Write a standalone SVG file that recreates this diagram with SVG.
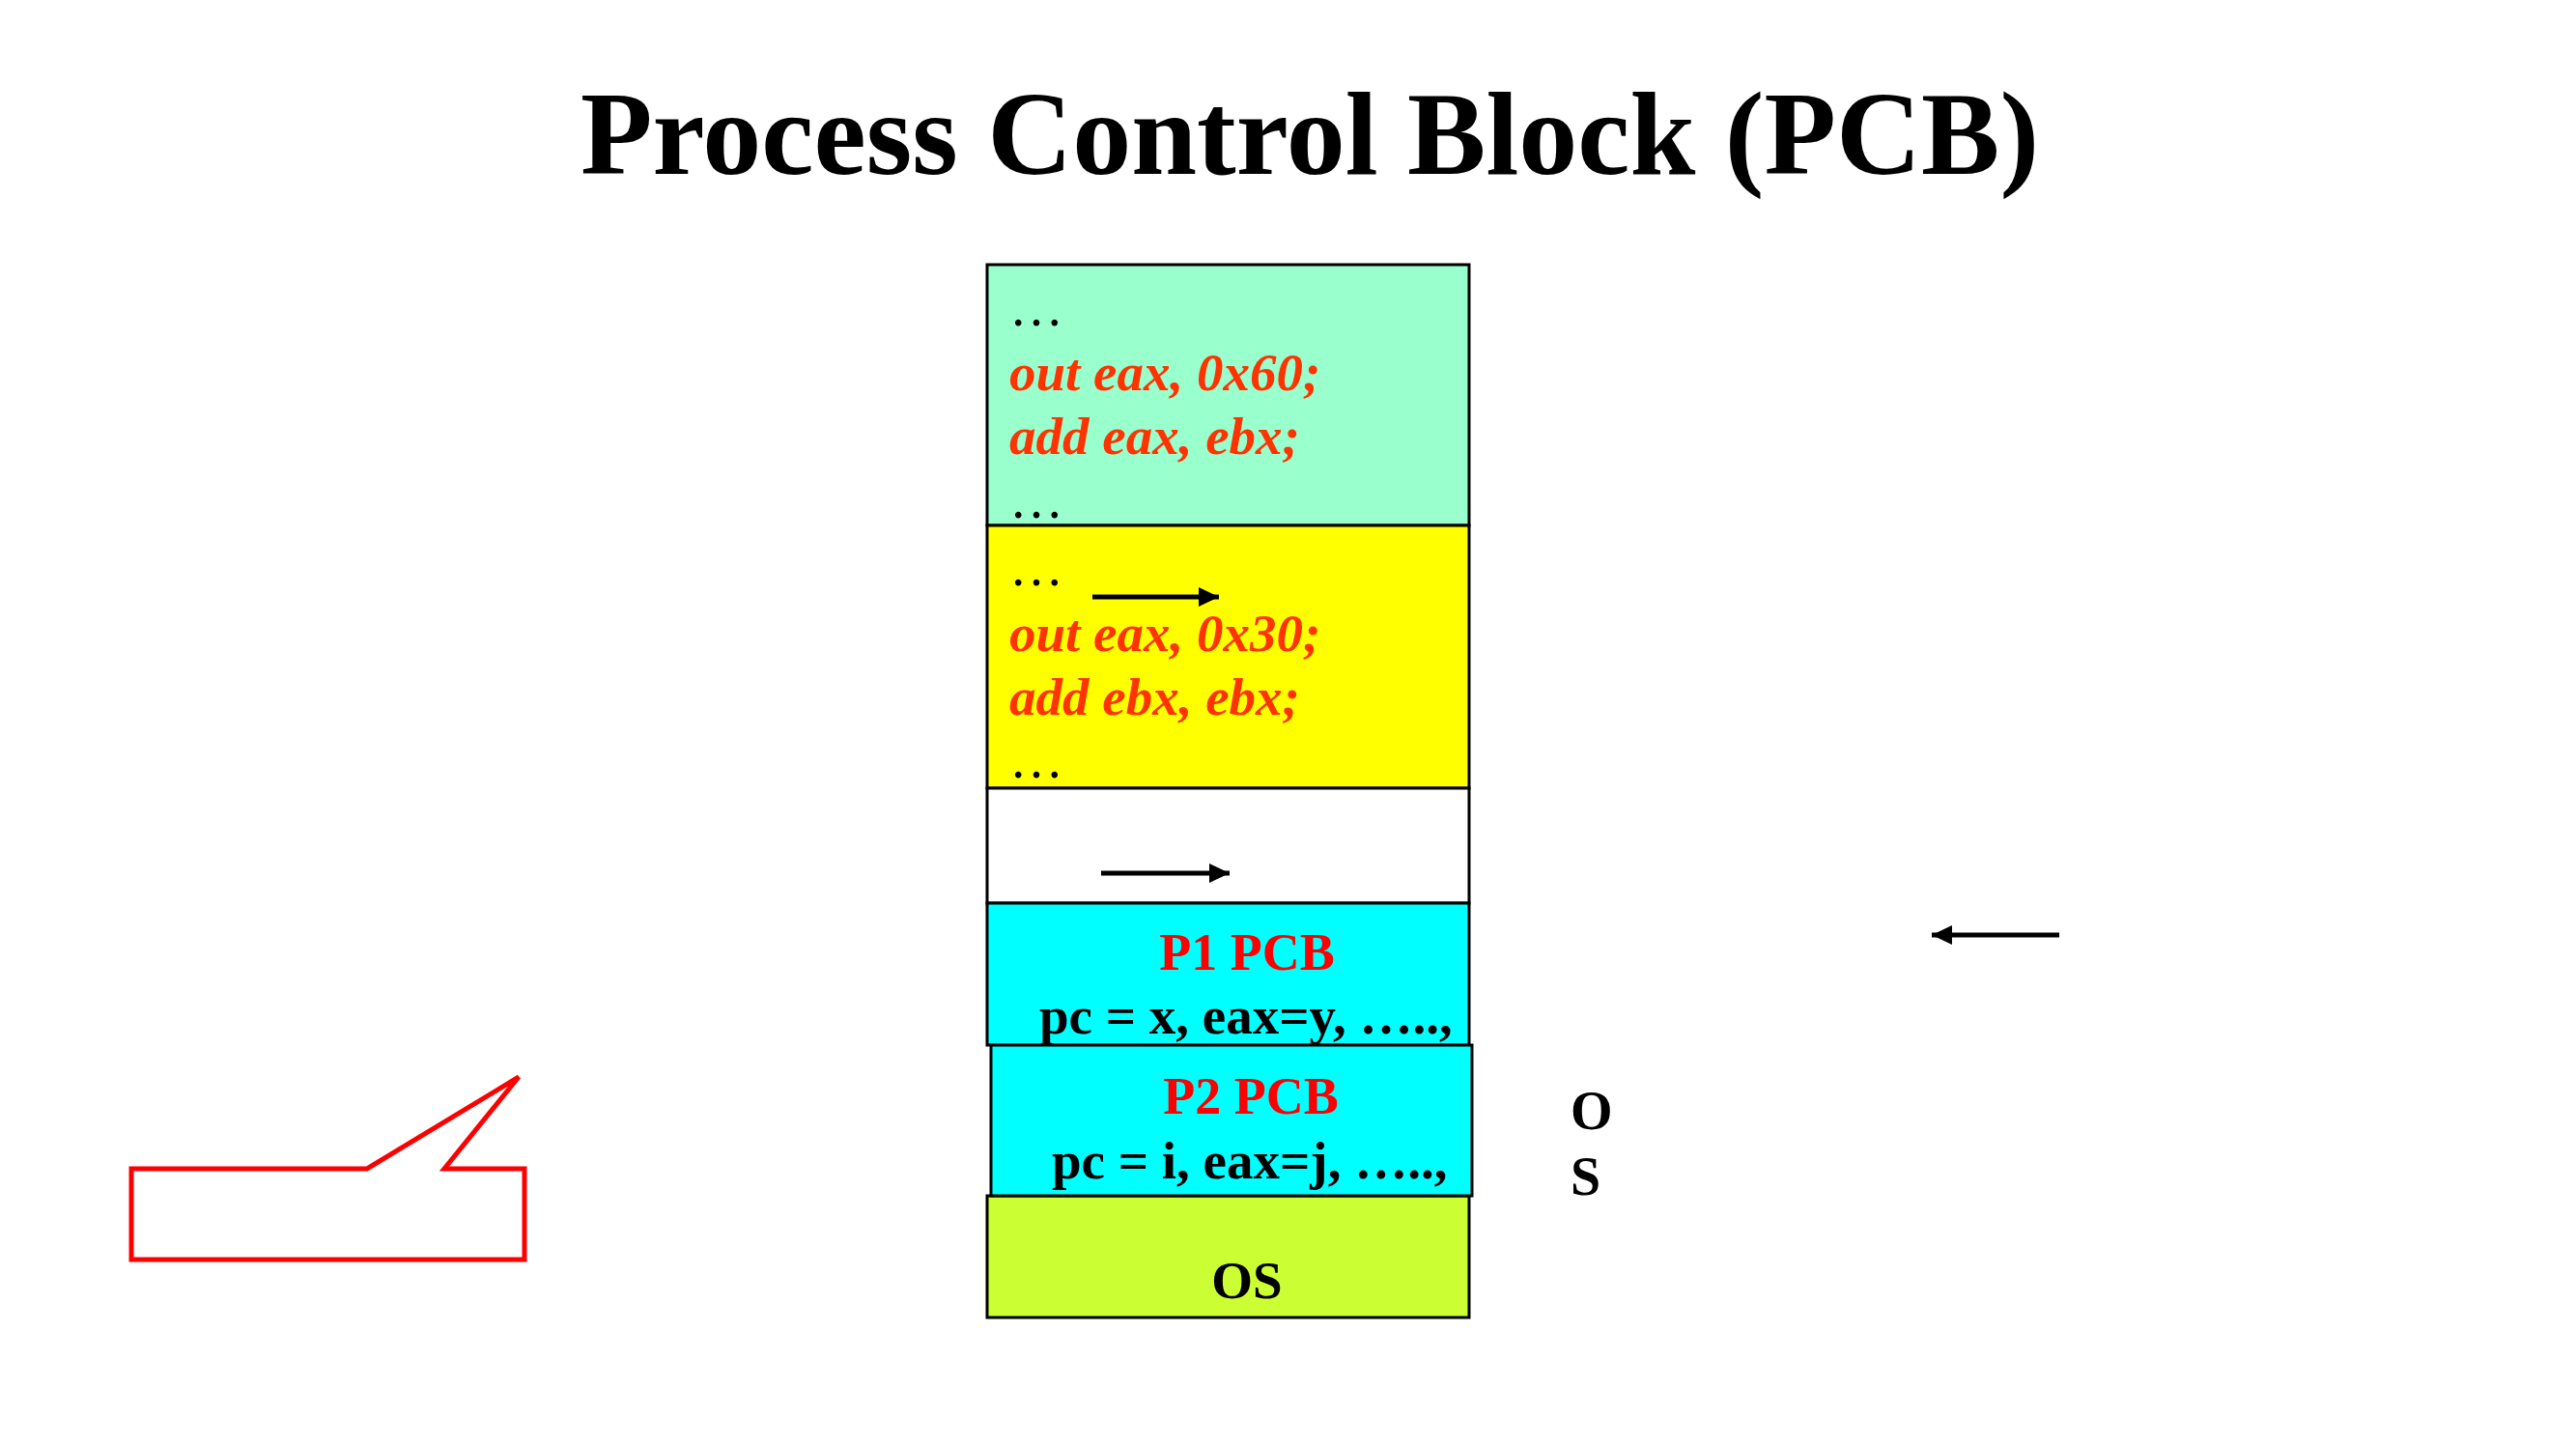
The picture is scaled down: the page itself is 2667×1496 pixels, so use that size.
<svg xmlns="http://www.w3.org/2000/svg" width="2667" height="1496" viewBox="0 0 2667 1496">
<style>
.t{font-family:"Liberation Serif","Times New Roman",serif;font-weight:bold}
.code{font-family:"Liberation Serif","Times New Roman",serif;font-weight:bold;font-style:italic;font-size:55px;fill:#FF3300}
.dots{font-family:"Liberation Serif","Times New Roman",serif;font-size:56px;fill:#000}
.box{stroke:#000;stroke-width:3}
.arr{stroke:#000;stroke-width:5;fill:none}
</style>
<defs>
<marker id="ah" markerWidth="22" markerHeight="22" refX="21" refY="11" orient="auto" markerUnits="userSpaceOnUse">
<path d="M0,1 L21,11 L0,21 Z" fill="#000"/>
</marker>
</defs>
<rect width="2667" height="1496" fill="#fff"/>
<text id="title" class="t" x="1356" y="180" font-size="122" text-anchor="middle">Process Control Block (PCB)</text>

<g id="p1-code">
<rect class="box" x="1022" y="274" width="499" height="270" fill="#99FFCC"/>
<text class="dots" x="1045" y="337">…</text>
<text class="code" x="1045" y="404">out eax, 0x60;</text>
<text class="code" x="1045" y="470">add eax, ebx;</text>
<text class="dots" x="1045" y="536">…</text>
</g>
<g id="p2-code">
<rect class="box" x="1022" y="544" width="499" height="272" fill="#FFFF00"/>
<text class="dots" x="1045" y="606">…</text>
<text class="code" x="1045" y="674">out eax, 0x30;</text>
<text class="code" x="1045" y="740">add ebx, ebx;</text>
<text class="dots" x="1045" y="805">…</text>
</g>
<g id="free">
<rect class="box" x="1022" y="816" width="499" height="119" fill="#FFFFFF"/>
</g>
<g id="p1-pcb">
<rect class="box" x="1022" y="935" width="499" height="147" fill="#00FFFF"/>
<text class="t" x="1291" y="1004" font-size="54" fill="#FF0000" text-anchor="middle">P1 PCB</text>
<text class="t" x="1076" y="1070" font-size="55" fill="#000">pc = x, eax=y, …..,</text>
</g>
<g id="os">
<rect class="box" x="1022" y="1238" width="499" height="126" fill="#CCFF33"/>
<text class="t" x="1291" y="1344" font-size="55" fill="#000" text-anchor="middle">OS</text>
</g>
<g id="p2-pcb">
<rect class="box" x="1026" y="1082" width="498" height="156" fill="#00FFFF"/>
<text class="t" x="1295" y="1153" font-size="54" fill="#FF0000" text-anchor="middle">P2 PCB</text>
<text class="t" x="1089" y="1220" font-size="55" fill="#000">pc = i, eax=j, …..,</text>
</g>
<g id="os-label">
<text class="t" x="1626" y="1169" font-size="56" fill="#000">O</text>
<text class="t" x="1626" y="1237" font-size="56" fill="#000">S</text>
</g>
<g id="callout">
<path d="M136,1210 L380,1210 L537,1115 L460,1210 L543,1210 L543,1304 L136,1304 Z" fill="none" stroke="#FF0000" stroke-width="5"/>
</g>
<g id="connectors">
<line class="arr" x1="1131" y1="618" x2="1262" y2="618" marker-end="url(#ah)"/>
<line class="arr" x1="1140" y1="904" x2="1273" y2="904" marker-end="url(#ah)"/>
<line class="arr" x1="2132" y1="968" x2="2000" y2="968" marker-end="url(#ah)"/>
</g>
</svg>
